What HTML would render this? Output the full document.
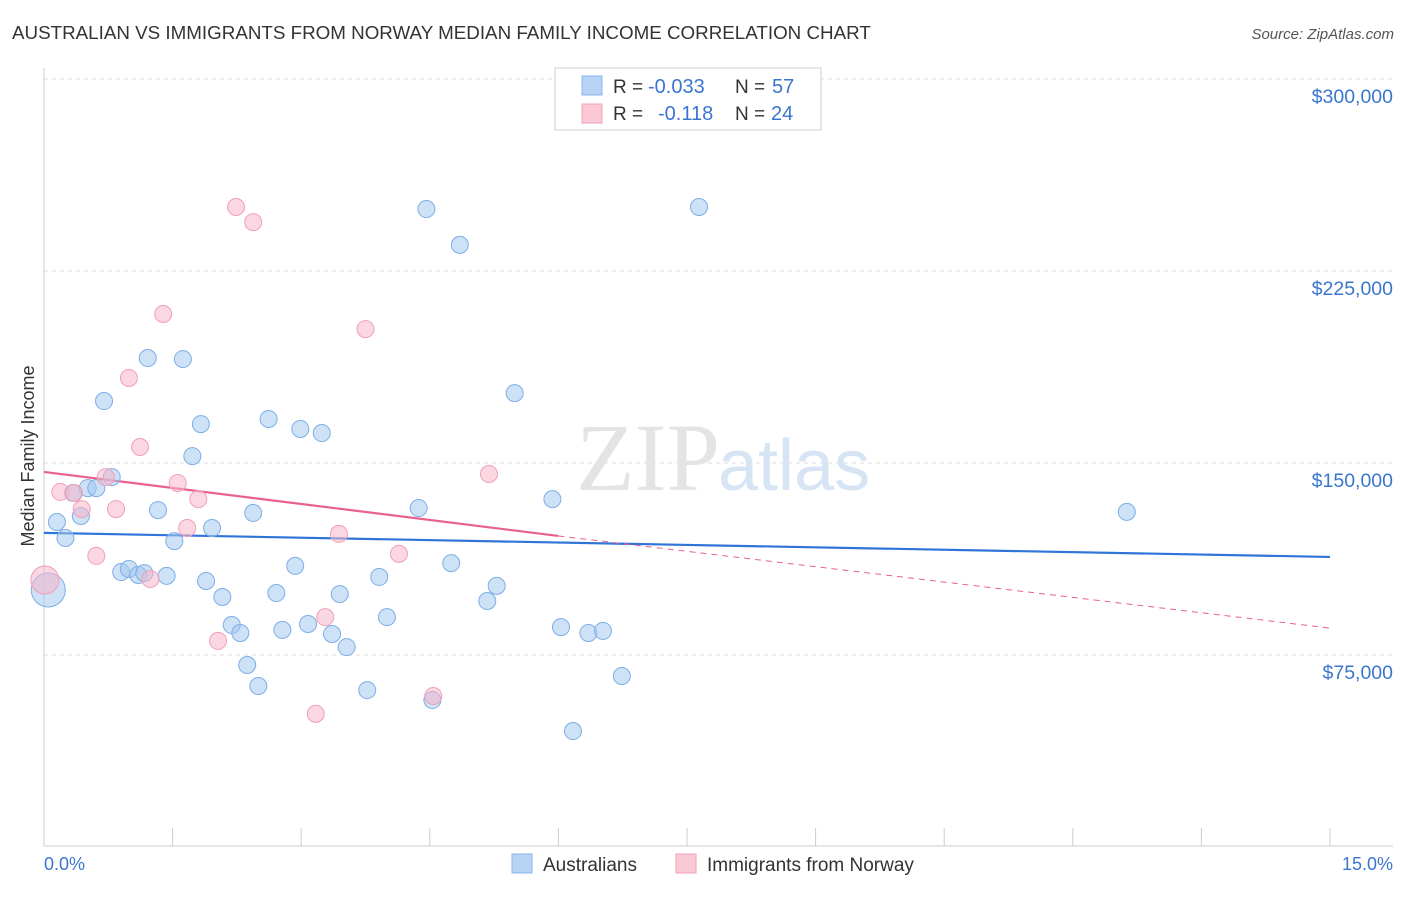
<!DOCTYPE html>
<html><head><meta charset="utf-8"><style>
body{margin:0;background:#fff;font-family:"Liberation Sans",sans-serif}
</style></head><body>
<svg width="1406" height="892" viewBox="0 0 1406 892" xmlns="http://www.w3.org/2000/svg" font-family="Liberation Sans, sans-serif">
<text x="12" y="39" font-size="18.8" fill="#333">AUSTRALIAN VS IMMIGRANTS FROM NORWAY MEDIAN FAMILY INCOME CORRELATION CHART</text>
<text x="1394" y="39" font-size="15" fill="#555" font-style="italic" text-anchor="end">Source: ZipAtlas.com</text>
<g id="grid"></g>
<text x="720" y="490" font-size="96" fill="#e4e4e4" text-anchor="end" font-family="Liberation Serif, serif">ZIP</text>
<text x="718" y="490" font-size="72" fill="#d6e4f4">atlas</text>
<line x1="44" y1="68" x2="44" y2="846" stroke="#ccc"/>
<line x1="44" y1="846" x2="1393" y2="846" stroke="#ccc"/>
<text x="34" y="456" font-size="18" fill="#333" text-anchor="middle" transform="rotate(-90 34 456)">Median Family Income</text>
<text x="44" y="870" font-size="18" fill="#3a76d0">0.0%</text>
<text x="1393" y="870" font-size="18" fill="#3a76d0" text-anchor="end">15.0%</text>
<g id="lines"></g>
<g id="points"></g>
<g>
<rect x="555" y="68" width="266" height="62" fill="#fff" stroke="#ccc"/>
<rect x="582" y="76" width="20" height="19" fill="#b8d4f4" stroke="#8ab4e8"/>
<rect x="582" y="104" width="20" height="19" fill="#fbc8d6" stroke="#f0a0b8"/>
<text x="613" y="93" font-size="19" fill="#333">R =</text>
<text x="648" y="93" font-size="20" fill="#3a76d0">-0.033</text>
<text x="735" y="93" font-size="19" fill="#333">N =</text>
<text x="772" y="93" font-size="20" fill="#3a76d0">57</text>
<text x="613" y="120" font-size="19" fill="#333">R =</text>
<text x="658" y="120" font-size="20" fill="#3a76d0">-0.118</text>
<text x="735" y="120" font-size="19" fill="#333">N =</text>
<text x="771" y="120" font-size="20" fill="#3a76d0">24</text>
</g>
<g>
<rect x="512" y="854" width="20" height="19" fill="#b8d4f4" stroke="#8ab4e8"/>
<text x="543" y="871" font-size="19" fill="#333">Australians</text>
<rect x="676" y="854" width="20" height="19" fill="#fbc8d6" stroke="#f0a0b8"/>
<text x="707" y="871" font-size="19" fill="#333">Immigrants from Norway</text>
</g>
</svg>
<script>
const yTicks=[75000,150000,225000,300000];
const yTickLabels=["$75,000","$150,000","$225,000","$300,000"];
const xTicks=[0,1.5,3,4.5,6,7.5,9,10.5,12,13.5,15];
const blueX=[0.05,0.15,0.25,0.34,0.43,0.51,0.61,0.70,0.79,0.90,0.99,1.10,1.17,1.21,1.33,1.43,1.52,1.62,1.73,1.83,1.89,1.96,2.08,2.19,2.29,2.37,2.44,2.50,2.62,2.71,2.78,2.93,2.99,3.08,3.24,3.36,3.45,3.53,3.77,3.91,4.00,4.37,4.46,4.53,4.75,4.85,5.17,5.28,5.49,5.93,6.03,6.17,6.35,6.52,6.74,7.64,12.63];
const blueY=[100400,126950,120700,138300,129300,140200,140200,174200,144500,107400,108600,106250,107000,191000,131600,105900,119500,190600,152700,165200,103900,124600,97650,86700,83600,71100,130500,62900,167200,99200,84800,109800,163300,87100,161700,83200,98800,78100,61300,105500,89800,132400,249200,57400,110900,235200,96100,102000,177300,135900,85900,45300,83600,84400,66800,250000,130900];
const pinkX=[0.01,0.19,0.35,0.44,0.61,0.72,0.84,0.99,1.12,1.24,1.39,1.56,1.67,1.80,2.03,2.24,2.44,3.17,3.28,3.44,3.75,4.14,4.54,5.19];
const pinkY=[104300,138700,138300,132000,113700,144500,132000,183200,156250,104700,208200,142200,124600,135900,80500,250000,244100,52000,89800,122300,202300,114500,59000,145700];
const blueTrendX=[0,15], blueTrendY=[122700,113300];
const pinkTrendX=[0,6,15], pinkTrendY=[146500,121500,85500];
const NS="http://www.w3.org/2000/svg";
const xs=v=>44+v/15*1286;
const ys=v=>847-v/75000*192;
function mk(t,a,p){const e=document.createElementNS(NS,t);for(const k in a)e.setAttribute(k,a[k]);p.appendChild(e);return e;}
const grid=document.getElementById('grid');
yTicks.forEach((t,i)=>{
 const l=mk('line',{x1:44,x2:1393,y1:ys(t),y2:ys(t),stroke:'#ddd','stroke-dasharray':'4,4'},grid);
 
 
 const tx=mk('text',{x:1393,y:ys(t)+24,'font-size':19.5,fill:'#3a76d0','text-anchor':'end'},grid);
 tx.textContent=yTickLabels[i];
 
 
});
xTicks.forEach(t=>{
 const l=mk('line',{x1:xs(t),x2:xs(t),y1:828,y2:846,stroke:'#ccc'},grid);
 
 
});
const lines=document.getElementById('lines');
let bl=mk('line',{x1:xs(blueTrendX[0]),y1:ys(blueTrendY[0]),x2:xs(blueTrendX[1]),y2:ys(blueTrendY[1]),stroke:'#2f74d8','stroke-width':2.2},lines);


let pl=mk('line',{x1:xs(pinkTrendX[0]),y1:ys(pinkTrendY[0]),x2:xs(pinkTrendX[1]),y2:ys(pinkTrendY[1]),stroke:'#e8608e','stroke-width':2.2},lines);


let pd=mk('line',{x1:xs(pinkTrendX[1]),y1:ys(pinkTrendY[1]),x2:xs(pinkTrendX[2]),y2:ys(pinkTrendY[2]),stroke:'#e8608e','stroke-width':1,'stroke-dasharray':'6,5'},lines);


const pts=document.getElementById('points');
blueX.forEach((x,i)=>{
 const c=mk('circle',{cx:xs(x),cy:ys(blueY[i]),r:i===0?17:8.5,fill:'rgba(164,200,240,0.55)',stroke:'#7eaee6','stroke-width':1},pts);
 
 
});
pinkX.forEach((x,i)=>{
 const c=mk('circle',{cx:xs(x),cy:ys(pinkY[i]),r:i===0?14:8.5,fill:'rgba(248,182,202,0.55)',stroke:'#f0a0b8','stroke-width':1},pts);
 
 
});
</script>
</body></html>
